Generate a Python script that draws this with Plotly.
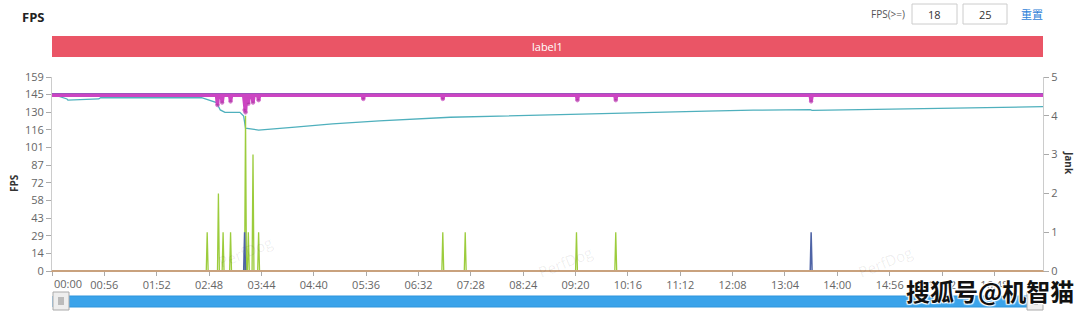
import plotly.graph_objects as go

# ---------------- data ----------------
# FPS (magenta) – seconds / fps
fps_time = [0, 176, 177, 178, 181, 182, 183, 190, 191, 192, 205, 206, 207, 208, 209, 210, 211,
            214, 215, 216, 220, 221, 222, 332, 333, 334, 417, 418, 419, 561, 562, 563,
            602, 603, 604, 811, 812, 813, 1060]
fps_val = [144, 144, 136, 144, 144, 138, 144, 144, 139, 144, 144, 132, 130, 144, 144, 137, 144,
           144, 138, 144, 144, 140, 144, 144, 141, 144, 144, 141, 144, 144, 140, 144,
           144, 140, 144, 144, 139, 144, 144]

# FPS base line (dark blue)
fps2_time = [0, 1060]
fps2_val = [144.6, 144.6]

# Average FPS (teal)
avg_time = [0, 16, 17, 30, 50, 52, 100, 160, 176, 180, 185, 201, 205, 207, 221, 240, 260,
            300, 350, 426, 500, 600, 700, 750, 811, 813, 900, 1000, 1060]
avg_val = [145, 141, 140, 140.5, 141, 142, 142, 142, 138, 132, 130, 130, 127, 117, 115.5, 116.5, 118,
           120.5, 123, 126, 127.5, 129.5, 131, 131.8, 132.3, 131.6, 132.6, 133.8, 134.7]

# Jank (green)
jank_time = [0, 165, 166, 167, 177, 178, 179, 182, 183, 184, 190, 191, 192,
             206, 207, 208, 209, 210, 211, 214, 215, 216, 220, 221, 222,
             417, 418, 419, 441, 442, 443, 560, 561, 562, 602, 603, 604, 1060]
jank_val = [0, 0, 1, 0, 0, 2, 0, 0, 1, 0, 0, 1, 0,
            0, 4, 0, 0, 1, 0, 0, 3, 0, 0, 1, 0,
            0, 1, 0, 0, 1, 0, 0, 1, 0, 0, 1, 0, 0]

# BigJank (dark blue)
big_time = [0, 205, 206, 207, 811, 812, 813, 1060]
big_val = [0, 0, 1, 0, 0, 1, 0, 0]

# Stutter (brown)
stutter_time = [0, 1060]
stutter_val = [0, 0]

x_tick_vals = [0, 56, 112, 168, 224, 280, 336, 392, 448, 504, 560, 616, 672, 728, 784, 840, 896, 952, 1008]
x_tick_text = ["00:00", "00:56", "01:52", "02:48", "03:44", "04:40", "05:36", "06:32", "07:28",
               "08:24", "09:20", "10:16", "11:12", "12:08", "13:04", "14:00", "14:56", "15:52", "16:48"]
y_tick_text = ["0", "14", "29", "43", "58", "72", "87", "101", "116", "130", "145", "159"]
y_max = 159
y2_tick_vals = [0, 1, 2, 3, 4, 5]

# ---------------- layout helpers ----------------
W, H = 1080, 314
L, R, T, B = 52, 1043, 77, 271


def px(x):
    return (x - L) / (R - L)


def py(y):
    return (B - y) / (B - T)


FONT = "Open Sans, Noto Sans, sans-serif"

fig = go.Figure()

fig.add_trace(go.Scatter(x=jank_time, y=jank_val, yaxis="y2", mode="lines",
                         line=dict(color="#9ccc3c", width=1.3), hoverinfo="skip"))
fig.add_trace(go.Scatter(x=big_time, y=big_val, yaxis="y2", mode="lines",
                         line=dict(color="#4f64a6", width=1.5), hoverinfo="skip"))
fig.add_trace(go.Scatter(x=stutter_time, y=stutter_val, yaxis="y2", mode="lines",
                         line=dict(color="#c9a27e", width=2), hoverinfo="skip"))
fig.add_trace(go.Scatter(x=avg_time, y=avg_val, mode="lines",
                         line=dict(color="#4fb0bd", width=1.3), hoverinfo="skip"))
fig.add_trace(go.Scatter(x=fps2_time, y=fps2_val, mode="lines",
                         line=dict(color="#6b62b8", width=3), hoverinfo="skip"))
marker_sizes = [3.5 if v < 144 else 0 for v in fps_val]
fig.add_trace(go.Scatter(x=fps_time, y=fps_val, mode="lines+markers",
                         line=dict(color="#cc45c2", width=3.5),
                         marker=dict(size=marker_sizes, color="#a8389f"),
                         hoverinfo="skip"))

axis_font = dict(family=FONT, size=11, color="#666")

fig.update_layout(
    width=W, height=H,
    margin=dict(l=L, r=W - R, t=T, b=H - B, pad=0),
    paper_bgcolor="white", plot_bgcolor="white",
    showlegend=False,
    xaxis=dict(range=[0, 1060], tickvals=x_tick_vals, ticktext=[""] + x_tick_text[1:],
               showgrid=False, zeroline=False, showline=True, linecolor="#c9a27e", linewidth=1,
               ticks="outside", ticklen=4, tickcolor="#aaa", tickfont=axis_font),
    yaxis=dict(range=[0, y_max], tickvals=[i * y_max / 11 for i in range(12)], ticktext=y_tick_text,
               showgrid=False, zeroline=False, showline=True, linecolor="#ccc",
               ticks="outside", ticklen=5, tickcolor="#aaa", tickfont=axis_font),
    yaxis2=dict(range=[0, 5], tickvals=y2_tick_vals, overlaying="y", side="right",
                showgrid=False, zeroline=False, showline=True, linecolor="#ccc",
                ticks="outside", ticklen=5, tickcolor="#aaa", tickfont=axis_font),
)

shapes = []
annotations = []


def note(x, y, text, font, xanchor="center", angle=0):
    annotations.append(dict(xref="paper", yref="paper", x=px(x), y=py(y), text=text,
                            xanchor=xanchor, yanchor="middle", textangle=angle,
                            showarrow=False, font=font))


# red label band
shapes.append(dict(type="rect", xref="paper", yref="paper", x0=px(52), x1=px(1043),
                   y0=py(57), y1=py(36), fillcolor="#ea5566", line=dict(width=0), layer="above"))
note(547, 46.5, "label1", dict(family=FONT, size=11, color="white"))
# title
note(20, 17, "<b>FPS</b>", dict(family=FONT, size=13, color="#222"), xanchor="left")
# threshold inputs
note(907, 14, "FPS(>=)", dict(family=FONT, size=10, color="#555"), xanchor="right")
for (a, b, t) in [(912, 957, "18"), (963, 1007, "25")]:
    shapes.append(dict(type="rect", xref="paper", yref="paper", x0=px(a), x1=px(b),
                       y0=py(24), y1=py(4), fillcolor="white", line=dict(color="#ccc", width=1)))
    note((a + b) / 2, 14, t, dict(family=FONT, size=11, color="#333"))
note(1032, 14, "重置", dict(family="Noto Sans CJK SC", size=11, color="#2f7fd8"))
# axis titles
note(14, 183, "<b>FPS</b>", dict(family=FONT, size=10, color="#333"), angle=-90)
note(1069, 163, "<b>Jank</b>", dict(family=FONT, size=10, color="#333"), angle=90)
# first x label, left aligned
note(52, 283, "00:00", axis_font, xanchor="left")
# slider
shapes.append(dict(type="rect", xref="paper", yref="paper", x0=px(53), x1=px(1042),
                   y0=py(307), y1=py(296), fillcolor="#3aa3ea", line=dict(color="#2f95dc", width=1)))
for (a, b) in [(53, 69), (1027, 1043)]:
    shapes.append(dict(type="rect", xref="paper", yref="paper", x0=px(a), x1=px(b),
                       y0=py(310), y1=py(292), fillcolor="#eeeeee", line=dict(color="#aaa", width=1)))
    for k in range(3):
        xx = (a + b) / 2 - 2 + 2 * k
        shapes.append(dict(type="line", xref="paper", yref="paper", x0=px(xx), x1=px(xx),
                           y0=py(305), y1=py(297), line=dict(color="#888", width=1)))
# faint PerfDog watermarks
for (wx, wy) in [(245, 252), (565, 262), (885, 262)]:
    note(wx, wy, "PerfDog", dict(family=FONT, size=15, color="rgba(0,0,0,0.07)"), angle=-22)
# overlay watermark
note(990, 290, "<b>搜狐号@机智猫</b>",
     dict(family="Noto Sans CJK SC", size=24, color="#111",
          shadow="1px 1px 1px white, -1px -1px 1px white, 1px -1px 1px white, -1px 1px 1px white"))

fig.update_layout(shapes=shapes, annotations=annotations)

fig.write_html("out.html")
